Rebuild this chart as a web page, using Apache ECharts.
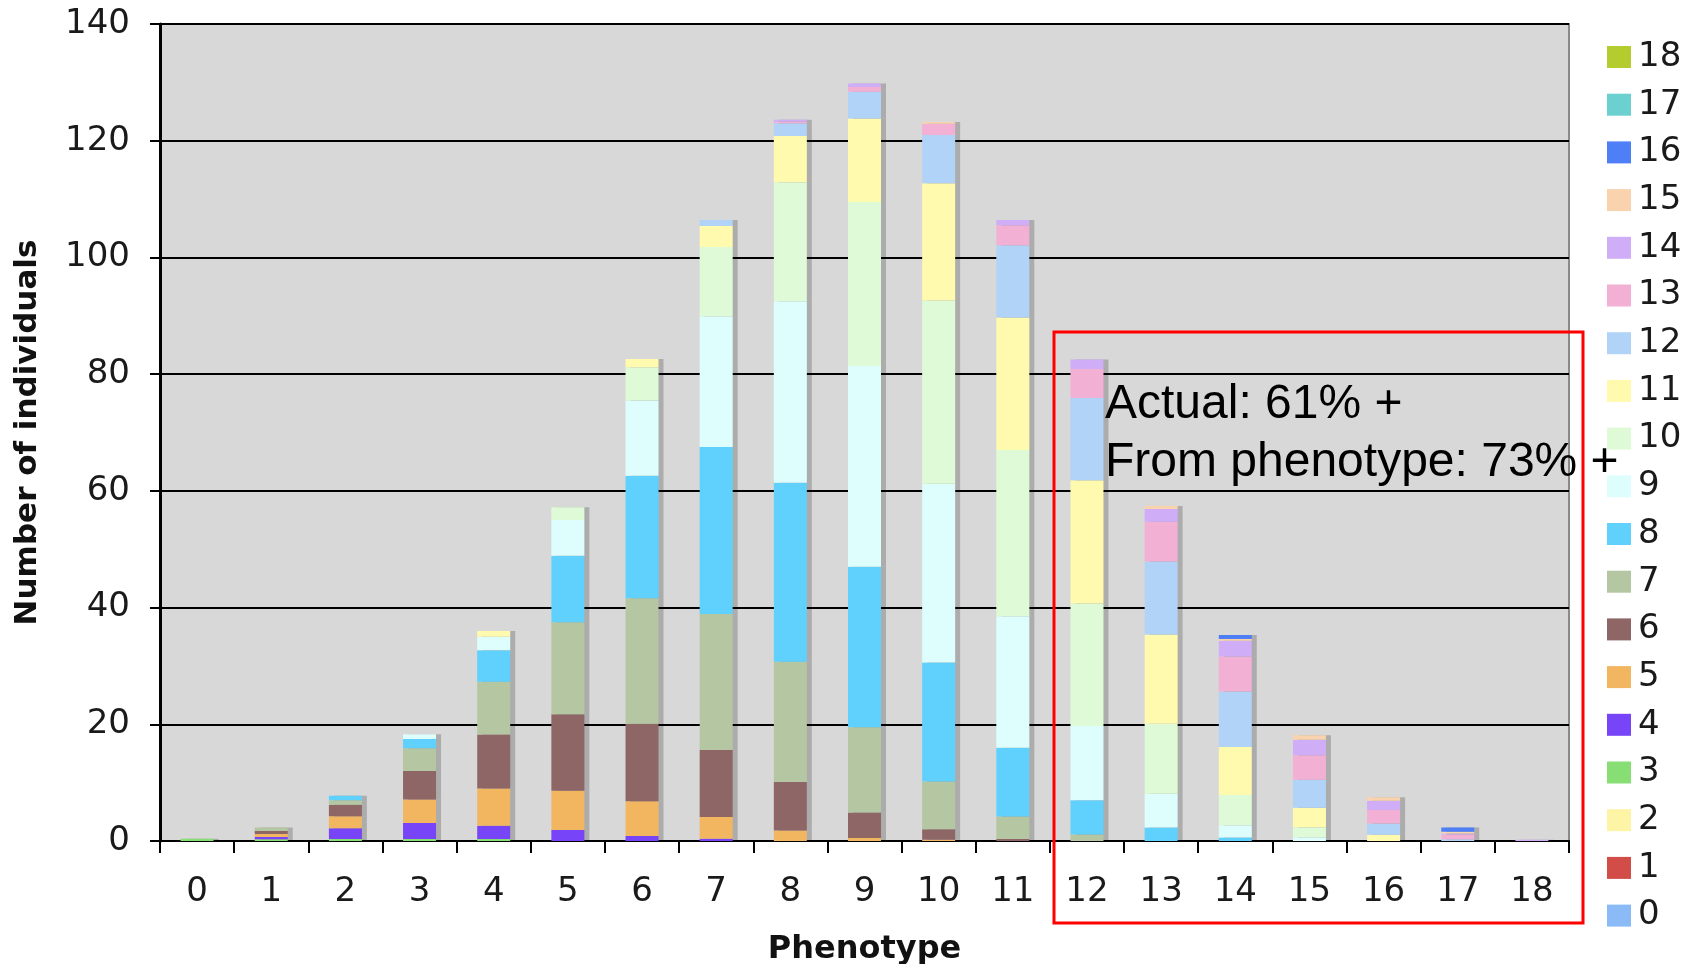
<!DOCTYPE html>
<html>
<head>
<meta charset="utf-8">
<script src="https://cdn.jsdelivr.net/npm/echarts@6/dist/echarts.min.js"></script>
<style>
html,body{margin:0;padding:0;background:#fff;}
#chart{width:1694px;height:964px;}
</style>
</head>
<body>
<div id="chart"></div>
<script>
// Phenotype categories (x axis)
const categories = ['0','1','2','3','4','5','6','7','8','9','10','11','12','13','14','15','16','17','18'];
// Y-axis ticks
const yTicks = [0, 20, 40, 60, 80, 100, 120, 140];
// Series names (genotype) and colours
const seriesNames = ['0','1','2','3','4','5','6','7','8','9','10','11','12','13','14','15','16','17','18'];
const seriesColors = ['#8abbf7','#d24c48','#fdf4a5','#86de74','#7744f7','#f2b661','#8e6666','#b5c6a2','#5fd1fc','#defefe','#defad6','#fffaae','#b0d3f7','#f2b0d4','#cfaef7','#f8d3ae','#4f7ff7','#6ccfd0','#b5cc2e'];

// Counts per phenotype for each genotype series
const g0  = [0,0,0,0,0,0,0,0,0,0,0,0,0,0,0,0,0,0,0];
const g1  = [0,0,0,0,0,0,0,0,0,0,0,0,0,0,0,0,0,0,0];
const g2  = [0,0,0,0,0,0,0,0,0,0,0,0,0,0,0,0,0,0,0];
const g3  = [0.4,0.3,0.35,0.35,0.35,0,0,0,0,0,0,0,0,0,0,0,0,0,0];
const g4  = [0,0.4,1.85,2.75,2.25,1.9,0.85,0.4,0,0,0,0,0,0,0,0,0,0,0];
const g5  = [0,0.5,2.05,4.0,6.4,6.7,5.95,3.7,1.8,0.5,0.2,0,0,0,0,0,0,0,0];
const g6  = [0,0.5,1.95,4.9,9.25,13.1,13.3,11.5,8.3,4.4,1.8,0.35,0,0,0,0,0,0,0];
const g7  = [0,0.6,0.8,3.9,9.05,15.8,21.5,23.3,20.6,14.6,8.2,3.85,1.1,0,0,0,0,0,0];
const g8  = [0,0,0.75,1.6,5.4,11.4,21.0,28.6,30.7,27.5,20.4,11.8,5.9,2.3,0.6,0,0,0,0];
const g9  = [0,0,0,0.8,2.3,6.1,12.9,22.4,31.1,34.4,30.6,22.5,12.7,5.8,2.1,0.65,0,0,0];
const g10 = [0,0,0,0,0,2.2,5.7,11.9,20.4,28.1,31.4,28.5,21.0,12.0,5.2,1.7,0,0,0];
const g11 = [0,0,0,0,1.0,0,1.4,3.6,7.9,14.3,20.1,22.7,21.1,15.3,8.2,3.35,1.05,0,0];
const g12 = [0,0,0,0,0,0,0,1.0,2.2,4.6,8.3,12.4,14.1,12.5,9.5,4.8,1.95,0.3,0];
const g13 = [0,0,0,0,0,0,0,0,0.3,0.8,1.9,3.4,5.0,6.8,6.0,4.2,2.3,0.8,0];
const g14 = [0,0,0,0,0,0,0,0,0.3,0.6,0,0.9,1.6,2.2,2.7,2.65,1.6,0.2,0.2];
const g15 = [0,0,0,0,0,0,0,0,0,0,0.3,0,0,0.5,0.3,0.75,0.6,0.3,0];
const g16 = [0,0,0,0,0,0,0,0,0,0,0,0,0,0,0.7,0,0,0.7,0];
const g17 = [0,0,0,0,0,0,0,0,0,0,0,0,0,0,0,0,0,0,0];
const g18 = [0,0,0,0,0,0,0,0,0,0,0,0,0,0,0,0,0,0,0];
const seriesValues = [g0,g1,g2,g3,g4,g5,g6,g7,g8,g9,g10,g11,g12,g13,g14,g15,g16,g17,g18];

// Annotation text
const annotationLines = ['Actual: 61% +', 'From phenotype: 73% +'];

const chart = echarts.init(document.getElementById('chart'), null, {renderer: 'canvas'});

const labelFont = 'DejaVu Sans, Verdana, sans-serif';

const series = seriesNames.map((name, i) => ({
  name: name,
  type: 'bar',
  stack: 'total',
  barWidth: 33,
  data: seriesValues[i],
  itemStyle: {
    color: seriesColors[i],
    shadowColor: 'rgba(0,0,0,0.2)',
    shadowOffsetX: 5,
    shadowOffsetY: 0,
    shadowBlur: 0
  },
  emphasis: {disabled: true},
  animation: false
}));

const option = {
  animation: false,
  backgroundColor: '#ffffff',
  grid: {
    left: 160, right: 125, top: 24, bottom: 123,
    containLabel: false,
    outerBoundsMode: 'none',
    show: true,
    backgroundColor: '#d8d8d8',
    borderColor: '#8a8a8a',
    borderWidth: 2
  },
  legend: {
    orient: 'vertical',
    left: 1602,
    top: 35,
    data: seriesNames.slice().reverse(),
    icon: 'rect',
    itemWidth: 24,
    itemHeight: 22,
    itemGap: 13.7,
    selectedMode: false,
    textStyle: {
      fontFamily: labelFont,
      fontSize: 34,
      color: '#1a1a1a',
      padding: [0, 0, 0, 2]
    }
  },
  xAxis: {
    type: 'category',
    data: categories,
    name: 'Phenotype',
    nameLocation: 'middle',
    nameGap: 93,
    nameTextStyle: {
      fontFamily: labelFont,
      fontWeight: 'bold',
      fontSize: 32,
      color: '#111'
    },
    axisLine: {lineStyle: {color: '#000', width: 2}},
    axisTick: {show: true, alignWithLabel: false, length: 12, lineStyle: {color: '#000', width: 2}},
    axisLabel: {
      fontFamily: labelFont,
      fontSize: 34,
      color: '#1a1a1a',
      margin: 34
    },
    splitLine: {show: false}
  },
  yAxis: {
    type: 'value',
    min: yTicks[0],
    max: yTicks[yTicks.length - 1],
    interval: yTicks[1] - yTicks[0],
    name: 'Number of individuals',
    nameLocation: 'middle',
    nameGap: 117,
    nameRotate: 90,
    nameTextStyle: {
      fontFamily: labelFont,
      fontWeight: 'bold',
      fontSize: 31,
      color: '#111'
    },
    axisLine: {show: true, lineStyle: {color: '#000', width: 3}},
    axisTick: {show: true, length: 10, lineStyle: {color: '#000', width: 2}},
    axisLabel: {
      fontFamily: labelFont,
      fontSize: 34,
      color: '#1a1a1a',
      margin: 30
    },
    splitLine: {show: true, lineStyle: {color: '#000', width: 2}}
  },
  series: series,
  graphic: [
    {
      type: 'rect',
      z: 100,
      shape: {x: 1054, y: 332, width: 529, height: 591},
      style: {fill: 'none', stroke: '#ff0000', lineWidth: 3}
    },
    {
      type: 'text',
      z: 101,
      left: 1105,
      top: 381,
      style: {
        text: annotationLines[0],
        font: '48px "Liberation Sans", Arial, sans-serif',
        fill: '#000'
      }
    },
    {
      type: 'text',
      z: 101,
      left: 1105,
      top: 439,
      style: {
        text: annotationLines[1],
        font: '48px "Liberation Sans", Arial, sans-serif',
        fill: '#000'
      }
    }
  ]
};

chart.setOption(option);
</script>
</body>
</html>
